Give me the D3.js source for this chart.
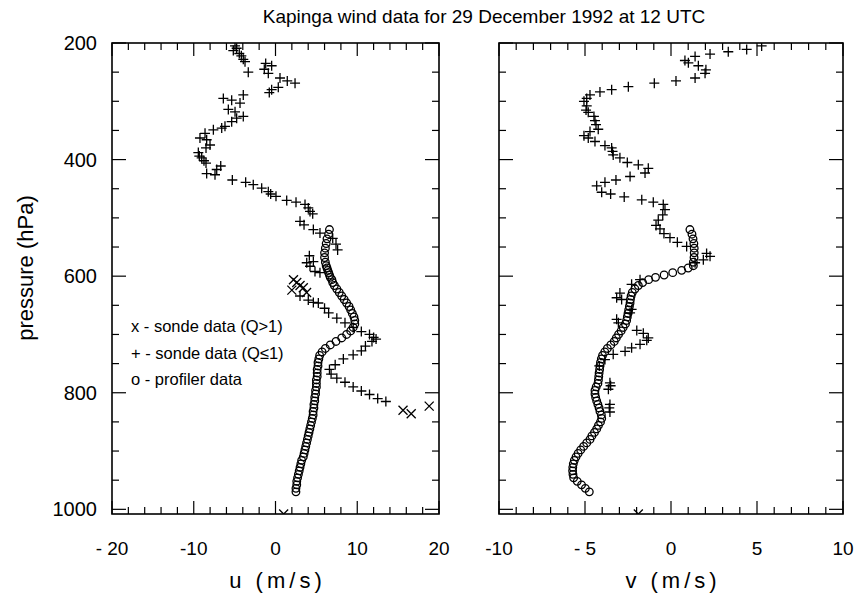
<!DOCTYPE html>
<html>
<head>
<meta charset="utf-8">
<script src="https://cdn.jsdelivr.net/npm/d3@7"></script>
<style>
  body { margin: 0; background: #fff; }
  text { font-family: "Liberation Sans", Arial, sans-serif; fill: #000; }
</style>
</head>
<body>
<svg id="chart" width="857" height="594"></svg>
<script>
// ---- data ----
var titleText = "Kapinga wind data for 29 December 1992 at 12 UTC";
var pressureTicks = [200, 400, 600, 800, 1000];
var uTicks = [-20, -10, 0, 10, 20];
var vTicks = [-10, -5, 0, 5, 10];
var uTickLabels = ["- 20", "-10", "0", "10", "20"];
var vTickLabels = ["-10", "- 5", "0", "5", "10"];
var legendLines = ["x - sonde data (Q>1)", "+ - sonde data (Q\u22641)", "o - profiler data"];

// sonde, Q<=1 (plus), u component
var uSondeP = [205, 209, 213, 218, 222, 228, 232, 235, 239, 245, 250, 252, 260, 265, 269, 276, 280, 285, 289,
  295, 298, 303, 314, 318, 326, 329, 335, 343, 346, 349, 355, 363, 366, 375, 380, 388, 394, 397, 402, 406,
  411, 417, 424, 426, 435, 439, 443, 449, 455, 459, 463, 470, 473, 477, 483, 489, 493, 506, 512, 520, 526,
  535, 545, 555, 565, 575, 577, 583, 592, 594, 634, 641, 645, 646, 655, 663, 672, 680, 688, 695, 700, 705,
  708, 712, 720, 728, 735, 742, 752, 760, 768, 775, 782, 790, 797, 803, 810, 815];
var uSondeVal = [-4.95, -4.75, -5.16, -4.43, -4.18, -3.94, -3.73, -1.2, -0.47, -1.37, -3.33, -0.88, 0.55, 1.44, 2.39,
  0.34, -0.47, -0.76, -3.94, -6.38, -5.36, -4.34, -5.77, -4.95, -3.94, -4.75, -5.36, -6.18, -6.58, -7.6,
  -8.62, -9.24, -8.42, -8.01, -8.5, -9.44, -9.32, -9.03, -8.75, -8.5, -6.7, -7.19, -8.42, -7.4, -5.28,
  -3.65, -2.72, -1.69, -0.88, -0.59, 0.06, 1.37, 2.51, 3.61, 4.01, 4.22, 4.55, 3.0, 3.49, 4.63, 5.44,
  7.0, 7.4, 7.6, 4.14, 4.63, 3.82, 4.22, 4.83, 5.44, 3.0, 4.01, 4.63, 5.24, 6.0, 6.5, 7.5, 8.5, 9.5, 10.5,
  11.5, 12.0, 12.3, 11.8, 11.0, 10.5, 9.5, 8.3, 7.3, 6.6, 6.8, 7.5, 8.5, 9.5, 10.5, 11.5, 12.5, 13.5];

// sonde, Q>1 (cross), u component
var uBadP = [606, 611, 616, 620, 624, 628, 823, 830, 836, 1008];
var uBadVal = [2.2, 2.6, 3.0, 3.4, 2.0, 3.8, 18.8, 15.6, 16.6, 1.0];

// sonde, Q<=1 (plus), v component
var vSondeP = [205, 211, 215, 219, 223, 230, 234, 239, 246, 252, 260, 265, 269, 275, 280, 284, 289, 295, 300,
  308, 315, 319, 326, 333, 340, 348, 352, 359, 363, 369, 376, 380, 386, 392, 397, 405, 409, 415, 423, 429,
  435, 439, 445, 456, 459, 464, 469, 473, 477, 486, 495, 504, 513, 519, 527, 534, 542, 549, 561, 566, 572,
  577, 606, 614, 629, 637, 640, 657, 663, 674, 680, 693, 698, 706, 710, 717, 723, 729, 734, 743, 754, 783,
  788, 794, 820, 826, 833];
var vSondeVal = [5.27, 4.4, 3.33, 2.27, 1.4, 0.81, 1.01, 1.59, 2.03, 1.98, 1.4, 0.29, -0.97, -2.48, -3.45, -4.13,
  -4.71, -4.9, -5.06, -4.9, -4.94, -4.81, -4.48, -4.42, -4.36, -4.23, -4.71, -5.06, -4.81, -4.42, -3.84,
  -3.45, -3.4, -3.36, -2.97, -2.54, -1.9, -1.32, -1.51, -2.38, -3.2, -3.84, -4.32, -4.03, -3.51, -2.72,
  -1.7, -1.03, -0.45, -0.35, -0.48, -0.74, -0.87, -0.64, -0.41, -0.06, 0.37, 0.91, 2.07, 2.27, 1.88, 1.4,
  -1.8, -2.29, -2.97, -3.16, -2.87, -2.29, -2.38, -3.16, -3.06, -1.99, -1.61, -1.32, -1.41, -1.8, -2.29,
  -2.67, -3.36, -3.84, -4.17, -3.55, -3.51, -3.64, -3.55, -3.59, -3.55];

// sonde, Q>1 (cross), v component
var vBadP = [1008];
var vBadVal = [-1.9];

// profiler (circles), shared levels
var profP = [520, 528, 536, 544, 552, 560, 568, 576, 582, 586, 590, 594, 598, 602, 606, 611, 616, 622, 628, 634,
  640, 646, 652, 658, 664, 670, 676, 682, 688, 694, 700, 706, 712, 718, 724, 730, 736, 742, 748, 754, 760,
  766, 772, 778, 784, 790, 796, 802, 808, 814, 820, 826, 832, 838, 844, 850, 856, 862, 868, 874, 880, 886,
  892, 898, 904, 910, 916, 922, 928, 934, 940, 946, 952, 958, 964, 970];
var profU = [6.6, 6.5, 6.3, 6.2, 6.1, 6.0, 6.0, 6.1, 6.2, 6.3, 6.4, 6.5, 6.6, 6.7, 6.9, 7.0, 7.2, 7.5, 7.8, 8.1,
  8.4, 8.7, 9.0, 9.2, 9.4, 9.6, 9.7, 9.7, 9.5, 9.2, 8.7, 8.1, 7.4, 6.7, 6.1, 5.7, 5.4, 5.3, 5.2, 5.2, 5.1,
  5.1, 5.1, 5.0, 5.0, 5.0, 4.9, 4.9, 4.8, 4.8, 4.7, 4.7, 4.6, 4.6, 4.5, 4.4, 4.3, 4.2, 4.1, 4.0, 3.9, 3.8,
  3.7, 3.6, 3.5, 3.4, 3.2, 3.1, 3.0, 2.9, 2.8, 2.7, 2.6, 2.6, 2.5, 2.5];
var profV = [1.10, 1.22, 1.28, 1.33, 1.35, 1.35, 1.34, 1.30, 1.30, 1.0, 0.62, 0.10, -0.40, -0.90, -1.30, -1.65,
  -1.90, -2.10, -2.25, -2.32, -2.36, -2.38, -2.42, -2.46, -2.50, -2.54, -2.58, -2.65, -2.78, -2.90, -3.05,
  -3.18, -3.30, -3.50, -3.70, -3.85, -3.98, -4.05, -4.10, -4.13, -4.15, -4.18, -4.20, -4.22, -4.25, -4.35,
  -4.42, -4.42, -4.38, -4.32, -4.25, -4.18, -4.13, -4.05, -4.03, -4.10, -4.22, -4.32, -4.45, -4.60, -4.71,
  -4.90, -5.08, -5.25, -5.40, -5.52, -5.62, -5.68, -5.71, -5.72, -5.70, -5.66, -5.45, -5.20, -4.98, -4.75];

// ---- layout ----
var svg = d3.select("#chart");
var frameTop = 43, frameBottom = 514;
var y = d3.scaleLinear().domain([200, 1008]).range([frameTop, frameBottom]);

var panels = [
  { id: "u", left: 112, right: 439, domain: [-20, 20], ticks: uTicks, tickLabels: uTickLabels, minor: 2,
    label: "u (m/s)", sondeP: uSondeP, sondeV: uSondeVal, badP: uBadP, badV: uBadVal, prof: profU },
  { id: "v", left: 499, right: 843, domain: [-10, 10], ticks: vTicks, tickLabels: vTickLabels, minor: 1,
    label: "v (m/s)", sondeP: vSondeP, sondeV: vSondeVal, badP: vBadP, badV: vBadVal, prof: profV }
];

svg.append("text")
  .attr("x", 484).attr("y", 23)
  .attr("text-anchor", "middle")
  .style("font-size", "19px")
  .text(titleText);

svg.append("text")
  .attr("transform", "translate(33,268) rotate(-90)")
  .attr("text-anchor", "middle")
  .style("font-size", "22px")
  .text("pressure (hPa)");

panels.forEach(function(pn) {
  var x = d3.scaleLinear().domain(pn.domain).range([pn.left, pn.right]);
  var g = svg.append("g");

  g.append("clipPath").attr("id", "clip-" + pn.id)
    .append("rect")
    .attr("x", pn.left).attr("y", frameTop)
    .attr("width", pn.right - pn.left).attr("height", frameBottom - frameTop);

  // minor + major ticks on all four sides
  var xMinor = d3.range(pn.domain[0], pn.domain[1] + 0.001, pn.minor);
  var yMinor = d3.range(200, 1001, 50);

  var tickG = g.append("g").attr("stroke", "#000").attr("stroke-width", 1.2);
  xMinor.forEach(function(v) {
    var len = pn.ticks.indexOf(v) >= 0 ? 13 : 7;
    tickG.append("line").attr("x1", x(v)).attr("x2", x(v)).attr("y1", frameBottom).attr("y2", frameBottom - len);
    tickG.append("line").attr("x1", x(v)).attr("x2", x(v)).attr("y1", frameTop).attr("y2", frameTop + len);
  });
  yMinor.forEach(function(p) {
    var len = pressureTicks.indexOf(p) >= 0 ? 14 : 7;
    tickG.append("line").attr("x1", pn.left).attr("x2", pn.left + len).attr("y1", y(p)).attr("y2", y(p));
    tickG.append("line").attr("x1", pn.right).attr("x2", pn.right - len).attr("y1", y(p)).attr("y2", y(p));
  });

  g.append("rect")
    .attr("x", pn.left).attr("y", frameTop)
    .attr("width", pn.right - pn.left).attr("height", frameBottom - frameTop)
    .attr("fill", "none").attr("stroke", "#000").attr("stroke-width", 1.6);

  // x tick labels
  g.selectAll(".xl").data(pn.ticks).enter().append("text")
    .attr("x", function(d) { return x(d); })
    .attr("y", 555)
    .attr("text-anchor", "middle")
    .style("font-size", "19px")
    .text(function(d, i) { return pn.tickLabels[i]; });

  g.append("text")
    .attr("x", (pn.left + pn.right) / 2 + 2).attr("y", 588)
    .attr("text-anchor", "middle")
    .style("font-size", "22px")
    .style("letter-spacing", "4px")
    .text(pn.label);

  var plot = g.append("g").attr("clip-path", "url(#clip-" + pn.id + ")")
    .attr("stroke", "#000").attr("fill", "none").attr("stroke-width", 1.3);

  // profiler circles
  plot.selectAll(".prof").data(profP).enter().append("circle")
    .attr("cx", function(d, i) { return x(pn.prof[i]); })
    .attr("cy", function(d) { return y(d); })
    .attr("r", 3.8);

  // sonde plus
  plot.selectAll(".plus").data(pn.sondeP).enter().append("path")
    .attr("d", "M-5,0H5M0,-5V5")
    .attr("transform", function(d, i) { return "translate(" + x(pn.sondeV[i]) + "," + y(d) + ")"; });

  // sonde cross
  plot.selectAll(".bad").data(pn.badP).enter().append("path")
    .attr("d", "M-4.5,-4.5L4.5,4.5M-4.5,4.5L4.5,-4.5")
    .attr("transform", function(d, i) { return "translate(" + x(pn.badV[i]) + "," + y(d) + ")"; });
});

// y tick labels (left panel only)
svg.selectAll(".yl").data(pressureTicks).enter().append("text")
  .attr("x", 97)
  .attr("y", function(d) { return y(d) + 7; })
  .attr("text-anchor", "end")
  .style("font-size", "20px")
  .text(function(d) { return d; });

// legend
svg.selectAll(".leg").data(legendLines).enter().append("text")
  .attr("x", 131)
  .attr("y", function(d, i) { return 332 + i * 26.5; })
  .style("font-size", "16.5px")
  .text(function(d) { return d; });
</script>
</body>
</html>
